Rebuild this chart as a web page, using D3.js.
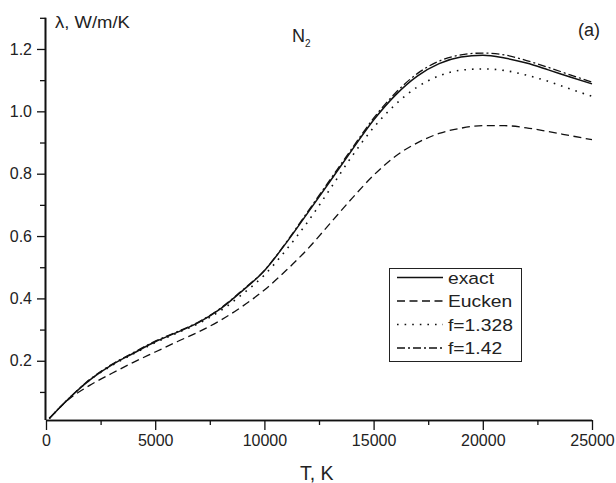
<!DOCTYPE html>
<html lang="en">
<head>
<meta charset="utf-8"/>
<title>N2 thermal conductivity</title>
<script src="https://d3js.org/d3.v7.min.js"></script>
<style>
  body { margin: 0; background: #fff; }
  text { font-family: "Liberation Sans", Arial, sans-serif; fill: #222; }
</style>
</head>
<body>
<script>
// temperature grid, K
var temps = [150, 1000, 2000, 3000, 4000, 5000, 6000, 7000, 8000, 9000, 10000, 11000, 12000,
             13000, 14000, 15000, 16000, 17000, 18000, 19000, 20000, 21000, 22000, 23000, 24000, 25000];
// thermal conductivity, W/m/K
var exact  = [0.015, 0.076, 0.138, 0.186, 0.224, 0.261, 0.291, 0.323, 0.367, 0.425, 0.489, 0.578, 0.676,
              0.775, 0.875, 0.972, 1.052, 1.113, 1.153, 1.174, 1.180, 1.171, 1.155, 1.133, 1.110, 1.088];
var eucken = [0.015, 0.074, 0.121, 0.159, 0.195, 0.228, 0.261, 0.293, 0.330, 0.375, 0.427, 0.490, 0.560,
              0.640, 0.720, 0.795, 0.856, 0.899, 0.929, 0.946, 0.954, 0.954, 0.947, 0.935, 0.922, 0.909];
var f1328  = [0.015, 0.076, 0.138, 0.184, 0.222, 0.258, 0.289, 0.320, 0.361, 0.414, 0.475, 0.556, 0.647,
              0.750, 0.855, 0.948, 1.022, 1.078, 1.114, 1.132, 1.136, 1.131, 1.116, 1.096, 1.072, 1.048];
var f142   = [0.015, 0.076, 0.140, 0.188, 0.226, 0.263, 0.293, 0.325, 0.369, 0.427, 0.490, 0.580, 0.680,
              0.780, 0.880, 0.978, 1.059, 1.121, 1.161, 1.181, 1.187, 1.181, 1.163, 1.141, 1.117, 1.094];

var seriesNames = ["exact", "Eucken", "f=1.328", "f=1.42"];
var xTicks = [0, 5000, 10000, 15000, 20000, 25000];
var xMinor = [2500, 7500, 12500, 17500, 22500];
var yTicks = [0.2, 0.4, 0.6, 0.8, 1.0, 1.2];
var yMinor = [0.1, 0.3, 0.5, 0.7, 0.9, 1.1, 1.3];

var w = 616, h = 483;
var x = d3.scaleLinear().domain([0, 25000]).range([46, 592]);
var y = d3.scaleLinear().domain([0.01, 1.3]).range([420, 17.8]);

var svg = d3.select("body").append("svg").attr("width", w).attr("height", h);

// axes
svg.append("g").attr("class", "xaxis").attr("transform", "translate(0,420)")
  .call(d3.axisBottom(x).tickValues(xTicks).tickSize(10).tickPadding(5).tickFormat(d3.format("d")));
svg.append("g").attr("class", "xaxis").attr("transform", "translate(0,420)")
  .call(d3.axisBottom(x).tickValues(xMinor).tickSize(5).tickFormat(""));
svg.append("g").attr("class", "yaxis").attr("transform", "translate(45,0)")
  .call(d3.axisLeft(y).tickValues(yTicks).tickSize(8).tickPadding(5).tickFormat(d3.format(".1f")));
svg.append("g").attr("class", "yaxis").attr("transform", "translate(45,0)")
  .call(d3.axisLeft(y).tickValues(yMinor).tickSize(5).tickFormat(""));

svg.selectAll(".tick line").attr("stroke", "#111").attr("stroke-width", 1.3);
svg.selectAll(".tick text").style("font-size", "16px").attr("fill", "#222");
// plain axis lines, no outer ticks
svg.selectAll(".xaxis .domain").attr("d", "M46,0.5H592");
svg.selectAll(".yaxis .domain").attr("d", "M0.5,420V17.8");
svg.selectAll(".domain").attr("stroke", "#111").attr("stroke-width", 1.6);

// text stretched a little wider, like the original figure
function label(px, py, size, sx, txt) {
  return svg.append("text")
    .attr("transform", "translate(" + px + "," + py + ") scale(" + sx + ",1)")
    .style("font-size", size + "px")
    .text(txt);
}

// axis titles
label(300, 480, 19.5, 1, "T, K");
label(55, 28, 16.5, 1.12, "\u03bb, W/m/K");
var n2 = svg.append("text").attr("x", 292).attr("y", 42).style("font-size", "18px");
n2.append("tspan").text("N");
n2.append("tspan").attr("dy", 5).style("font-size", "10px").text("2");
label(578, 36, 18, 1, "(a)");

// curves
var styles = [
  {data: exact,  dash: null,      width: 1.5},
  {data: eucken, dash: "8,4.5",   width: 1.3},
  {data: f1328,  dash: "1.6,6",   width: 1.6},
  {data: f142,   dash: "8,3,2,3", width: 1.3}
];
var line = d3.line().x(function(d) { return x(d[0]); }).y(function(d) { return y(d[1]); })
  .curve(d3.curveMonotoneX);

svg.selectAll("path.curve")
  .data(styles)
  .enter()
  .append("path")
  .attr("class", "curve")
  .attr("fill", "none")
  .attr("stroke", "#111")
  .attr("stroke-width", function(d) { return d.width; })
  .attr("stroke-dasharray", function(d) { return d.dash; })
  .attr("d", function(d) { return line(d3.zip(temps, d.data)); });

// legend
var legend = svg.append("g");
legend.append("rect").attr("x", 389.5).attr("y", 268.5).attr("width", 132).attr("height", 93)
  .attr("fill", "#fff").attr("stroke", "#222").attr("stroke-width", 1);
var rows = legend.selectAll("g.row")
  .data(styles)
  .enter()
  .append("g")
  .attr("class", "row")
  .attr("transform", function(d, i) { return "translate(0," + (277.5 + i * 23.5) + ")"; });
rows.append("line")
  .attr("x1", 397).attr("x2", 443).attr("y1", 0).attr("y2", 0)
  .attr("stroke", "#111")
  .attr("stroke-width", function(d) { return d.width; })
  .attr("stroke-dasharray", function(d) { return d.dash; });
rows.append("text")
  .attr("transform", "translate(448,6) scale(1.17,1)")
  .style("font-size", "16.5px")
  .text(function(d, i) { return seriesNames[i]; });
</script>
</body>
</html>
